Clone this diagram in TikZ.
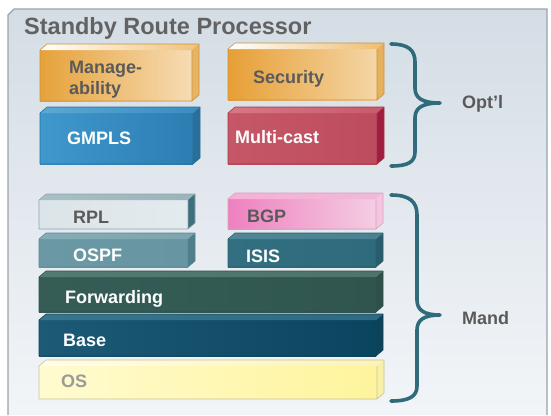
\documentclass[tikz,border=0pt]{standalone}
\usepackage{fontspec}
\setmainfont{Liberation Sans}
\usetikzlibrary{calc}

% slab palettes: front left/right, top left/right, side, edge
\definecolor{mgmtL}{HTML}{E6A23A}\definecolor{mgmtR}{HTML}{F6DCB4}
\definecolor{mgmtTL}{HTML}{FFFFFF}\definecolor{mgmtTR}{HTML}{F0C27A}
\definecolor{mgmtS}{HTML}{E8B464}\definecolor{mgmtE}{HTML}{C99440}

\definecolor{secL}{HTML}{E79F36}\definecolor{secR}{HTML}{F4D6A6}
\definecolor{secTL}{HTML}{FFFFFF}\definecolor{secTR}{HTML}{EEBD70}
\definecolor{secS}{HTML}{E6B05C}\definecolor{secE}{HTML}{C99440}

\definecolor{gmplsL}{HTML}{3F98CC}\definecolor{gmplsR}{HTML}{2C7DB2}
\definecolor{gmplsTL}{HTML}{5AA8D4}\definecolor{gmplsTR}{HTML}{3A8CC0}
\definecolor{gmplsS}{HTML}{2A6E9A}\definecolor{gmplsE}{HTML}{2A6E9A}

\definecolor{mcastL}{HTML}{C65766}\definecolor{mcastR}{HTML}{BD4D5E}
\definecolor{mcastTL}{HTML}{D77986}\definecolor{mcastTR}{HTML}{C85A6A}
\definecolor{mcastS}{HTML}{A11D3F}\definecolor{mcastE}{HTML}{A3334A}

\definecolor{rplL}{HTML}{DBE4E8}\definecolor{rplR}{HTML}{E4EBEE}
\definecolor{rplTL}{HTML}{A8BFC6}\definecolor{rplTR}{HTML}{9BB3BB}
\definecolor{rplS}{HTML}{3F6F7C}\definecolor{rplE}{HTML}{8EA6AE}

\definecolor{bgpL}{HTML}{EE80BF}\definecolor{bgpR}{HTML}{F4CDE2}
\definecolor{bgpTL}{HTML}{F6B0D6}\definecolor{bgpTR}{HTML}{F2B8D8}
\definecolor{bgpS}{HTML}{F3C6DF}\definecolor{bgpE}{HTML}{D9A0BE}

\definecolor{ospfL}{HTML}{6A99A5}\definecolor{ospfR}{HTML}{6795A1}
\definecolor{ospfTL}{HTML}{86ADB7}\definecolor{ospfTR}{HTML}{7CA5B0}
\definecolor{ospfS}{HTML}{4F7D89}\definecolor{ospfE}{HTML}{5A8894}

\definecolor{isisL}{HTML}{316F81}\definecolor{isisR}{HTML}{2E6B7C}
\definecolor{isisTL}{HTML}{4F8796}\definecolor{isisTR}{HTML}{4A8292}
\definecolor{isisS}{HTML}{2A5D6C}\definecolor{isisE}{HTML}{2A5D6C}

\definecolor{fwdL}{HTML}{355D56}\definecolor{fwdR}{HTML}{30554F}
\definecolor{fwdTL}{HTML}{557A72}\definecolor{fwdTR}{HTML}{4E736B}
\definecolor{fwdS}{HTML}{2F504A}\definecolor{fwdE}{HTML}{2F504A}

\definecolor{baseL}{HTML}{1D5A75}\definecolor{baseR}{HTML}{0A4560}
\definecolor{baseTL}{HTML}{3A7590}\definecolor{baseTR}{HTML}{2F6A84}
\definecolor{baseS}{HTML}{0E4259}\definecolor{baseE}{HTML}{0E4259}

\definecolor{osL}{HTML}{FFFBD0}\definecolor{osR}{HTML}{FFF49C}
\definecolor{osTL}{HTML}{FFFDE8}\definecolor{osTR}{HTML}{FBF3B8}
\definecolor{osS}{HTML}{F8F0A8}\definecolor{osE}{HTML}{C8C39A}

\definecolor{panelTop}{HTML}{D4DDE5}
\definecolor{panelBot}{HTML}{F2F5F8}
\definecolor{panelEdge}{HTML}{9CA2A8}
\definecolor{darkText}{HTML}{5A5A5A}
\definecolor{osText}{HTML}{9A9A9A}
\definecolor{braceCol}{HTML}{2F6B7B}

\tikzset{
  lbl/.style={anchor=base west, inner sep=0pt, font=\bfseries\fontsize{18}{21}\selectfont},
  darklbl/.style={lbl, text=darkText},
  lightlbl/.style={lbl, text=white},
  bracepath/.style={draw=braceCol, line width=3.6pt, line cap=round, line join=round},
}

% \slab{name}{x1}{y1}{x2}{y2}: front face, top face and right side of a block
\newcommand\slab[5]{%
  \coordinate (#1-nw) at (#2,#3);
  \coordinate (#1-se) at (#4,#5);
  \coordinate (#1-ne) at (#4,#3);
  \coordinate (#1-sw) at (#2,#5);
  \shade[left color=#1L, right color=#1R] (#1-nw) rectangle (#1-se);
  \shade[left color=#1TL, right color=#1TR]
    (#1-nw) -- ($(#1-nw)+(7,-6)$) -- ($(#1-ne)+(7,-6)$) -- (#1-ne) -- cycle;
  \fill[#1S] (#1-ne) -- ($(#1-ne)+(7,-6)$) -- ($(#1-se)+(7,-6)$) -- (#1-se) -- cycle;
  \draw[#1E, line width=0.6pt, line join=round]
    (#1-sw) -- (#1-nw) -- ($(#1-nw)+(7,-6)$) -- ($(#1-ne)+(7,-6)$)
    -- ($(#1-se)+(7,-6)$) -- (#1-se) -- cycle (#1-ne) -- (#1-se);
}

\begin{document}
\begin{tikzpicture}[x=1pt,y=-1pt]
\useasboundingbox (0,0) rectangle (551,415);
\fill[white] (0,0) rectangle (551,415);

% outer panel with clipped top-left corner
\shade[top color=panelTop, bottom color=panelBot]
  (8,415) -- (8,15) -- (14,9) -- (547,9) -- (547,415) -- cycle;
\draw[panelEdge, line width=1.2pt]
  (8,415) -- (8,15) -- (14,9) -- (547,9) -- (547,415);
\node[anchor=base west, inner sep=0pt, text=darkText!95!white,
      font=\bfseries\fontsize{23.5}{26}\selectfont] (title) at (24,34) {Standby Route Processor};

% optional components
\slab{mgmt}{40}{50}{192}{101}
\slab{sec}{228}{49}{377}{100}
\slab{gmpls}{40}{113}{193}{164}
\slab{mcast}{228}{113}{377}{164}

% mandatory components
\slab{rpl}{39}{200}{188}{229}
\slab{bgp}{228}{199}{376}{229}
\slab{ospf}{39}{239}{188}{267}
\slab{isis}{228}{239}{376}{267}
\slab{fwd}{39}{277}{376}{312}
\slab{base}{39}{320}{376}{356}
\slab{os}{39}{366}{377}{399}

% block labels
\node[darklbl] (tmgmt) at (69,73) {Manage-};
\node[darklbl] (tmgmt2) at (69,94) {ability};
\node[darklbl] (tsec) at (253,83) {Security};
\node[lightlbl] (tgmpls) at (67,144) {GMPLS};
\node[lightlbl] (tmcast) at (235,143) {Multi-cast};
\node[darklbl] (trpl) at (73,223) {RPL};
\node[darklbl] (tbgp) at (247,222) {BGP};
\node[lightlbl] (tospf) at (73,261) {OSPF};
\node[lightlbl] (tisis) at (246,262) {ISIS};
\node[lightlbl] (tfwd) at (65,303) {Forwarding};
\node[lightlbl] (tbase) at (63,346) {Base};
\node[lbl, text=osText] (tos) at (61,387) {OS};

% braces
\coordinate (optTop) at (391,44);
\coordinate (optTip) at (440,103);
\coordinate (optBot) at (391,166);
\draw[bracepath] (optTop) .. controls (408,44) and (415,50) .. (415,62)
  -- (415,88) .. controls (415,98) and (422,103) .. (optTip)
  .. controls (422,103) and (415,108) .. (415,118)
  -- (415,152) .. controls (415,162) and (408,166) .. (optBot);
\node[darklbl] (topt) at (462,108) {Opt’l};

\coordinate (manTop) at (391,195);
\coordinate (manTip) at (440,315);
\coordinate (manBot) at (391,401);
\draw[bracepath] (manTop) .. controls (410,195) and (417,202) .. (417,215)
  -- (417,300) .. controls (417,310) and (424,315) .. (manTip)
  .. controls (424,315) and (417,320) .. (417,330)
  -- (417,386) .. controls (417,396) and (410,401) .. (manBot);
\node[darklbl] (tman) at (462,324) {Mand};
\end{tikzpicture}
\end{document}
